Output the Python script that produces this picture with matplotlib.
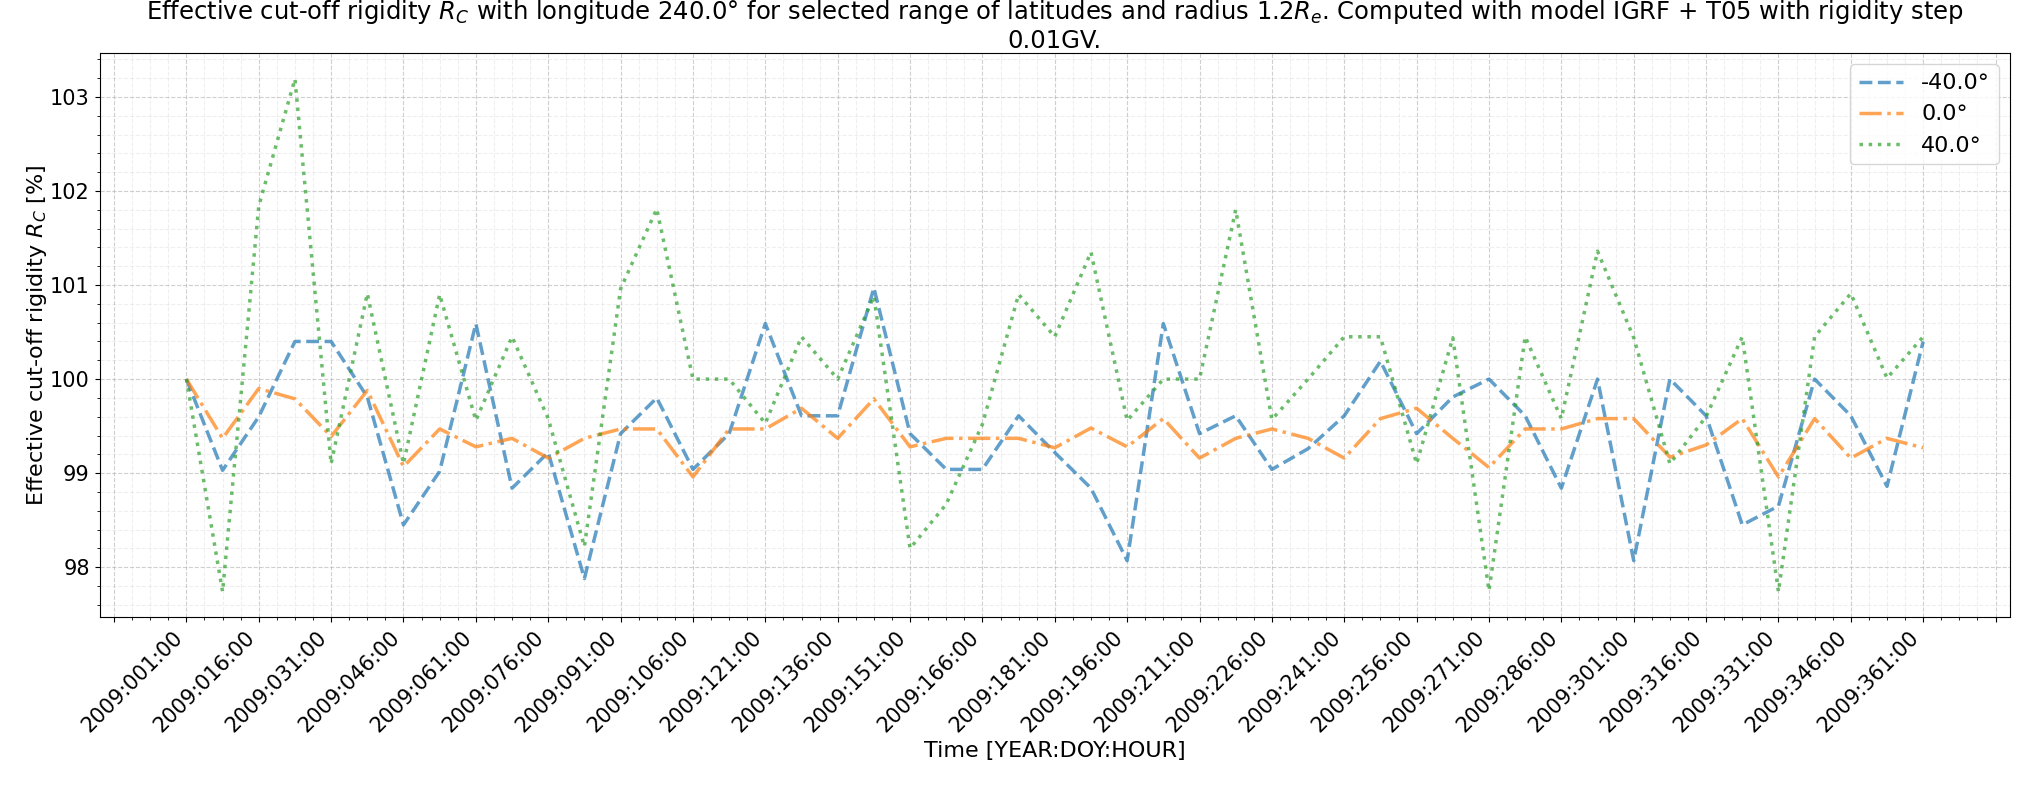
import matplotlib
matplotlib.use("Agg")
import matplotlib.pyplot as plt
from matplotlib.ticker import AutoMinorLocator

# time axis: day of year 2009, one point every 180 hours
days = [1 + 7.5 * i for i in range(49)]

# effective cut-off rigidity relative to first point [%]
lat_m40 = [100.0, 99.03, 99.6, 100.4, 100.4, 99.81, 98.45, 99.02, 100.59, 98.84,
           99.22, 97.88, 99.42, 99.8, 99.04, 99.42, 100.59, 99.61, 99.61, 100.97,
           99.42, 99.04, 99.04, 99.61, 99.22, 98.84, 98.07, 100.59, 99.42, 99.61,
           99.04, 99.26, 99.61, 100.19, 99.42, 99.81, 100.0, 99.61, 98.84, 100.0,
           98.07, 100.0, 99.61, 98.45, 98.65, 100.0, 99.61, 98.86, 100.4]
lat_0 = [100.0, 99.37, 99.9, 99.79, 99.39, 99.88, 99.07, 99.47, 99.28, 99.37,
         99.16, 99.37, 99.47, 99.47, 98.96, 99.47, 99.47, 99.69, 99.37, 99.79,
         99.28, 99.37, 99.37, 99.37, 99.27, 99.48, 99.28, 99.58, 99.16, 99.37,
         99.47, 99.37, 99.16, 99.58, 99.69, 99.37, 99.06, 99.47, 99.47, 99.58,
         99.58, 99.17, 99.3, 99.58, 98.96, 99.58, 99.16, 99.37, 99.27]
lat_p40 = [100.0, 97.74, 101.84, 103.19, 99.1, 100.91, 99.1, 100.9, 99.56, 100.45,
           99.58, 98.22, 100.96, 101.81, 100.0, 100.0, 99.53, 100.45, 100.0, 100.88,
           98.2, 98.67, 99.52, 100.9, 100.45, 101.35, 99.56, 100.0, 100.0, 101.8,
           99.57, 100.0, 100.45, 100.45, 99.1, 100.44, 97.75, 100.45, 99.58, 101.36,
           100.44, 99.1, 99.6, 100.45, 97.74, 100.45, 100.91, 100.01, 100.45]

labels = ["-40.0°", "0.0°", "40.0°"]

tick_days = list(range(-14, 377, 15))
tick_labels = ["2009:%03d:00" % d if 1 <= d <= 361 else "" for d in tick_days]

plt.rcParams["font.size"] = 16

fig, ax = plt.subplots(figsize=(20.4, 7.85), dpi=100)
ax.plot(days, lat_m40, linestyle="--", linewidth=2.5, alpha=0.7, label=labels[0])
ax.plot(days, lat_0, linestyle="-.", linewidth=2.5, alpha=0.7, label=labels[1])
ax.plot(days, lat_p40, linestyle=":", linewidth=2.5, alpha=0.7, label=labels[2])

ax.set_xticks(tick_days, tick_labels, rotation=45, ha="right")
ax.tick_params(labelsize=15)
ax.xaxis.set_minor_locator(AutoMinorLocator())
ax.yaxis.set_minor_locator(AutoMinorLocator())
ax.grid(which="major", linestyle="--", alpha=0.6)
ax.grid(which="minor", linestyle="--", alpha=0.2)

ax.set_xlabel("Time [YEAR:DOY:HOUR]")
ax.set_ylabel("Effective cut-off rigidity $R_C$ [%]", labelpad=1)
ax.set_title("Effective cut-off rigidity $R_C$ with longitude 240.0° for selected range of "
             "latitudes and radius 1.2$R_e$. Computed with model IGRF + T05 with rigidity step\n"
             "0.01GV.", fontsize=17.5, pad=2)
ax.legend(loc="upper right")

plt.subplots_adjust(left=0.0488, right=0.9853, top=0.932, bottom=0.2136)
plt.savefig("out.png")
